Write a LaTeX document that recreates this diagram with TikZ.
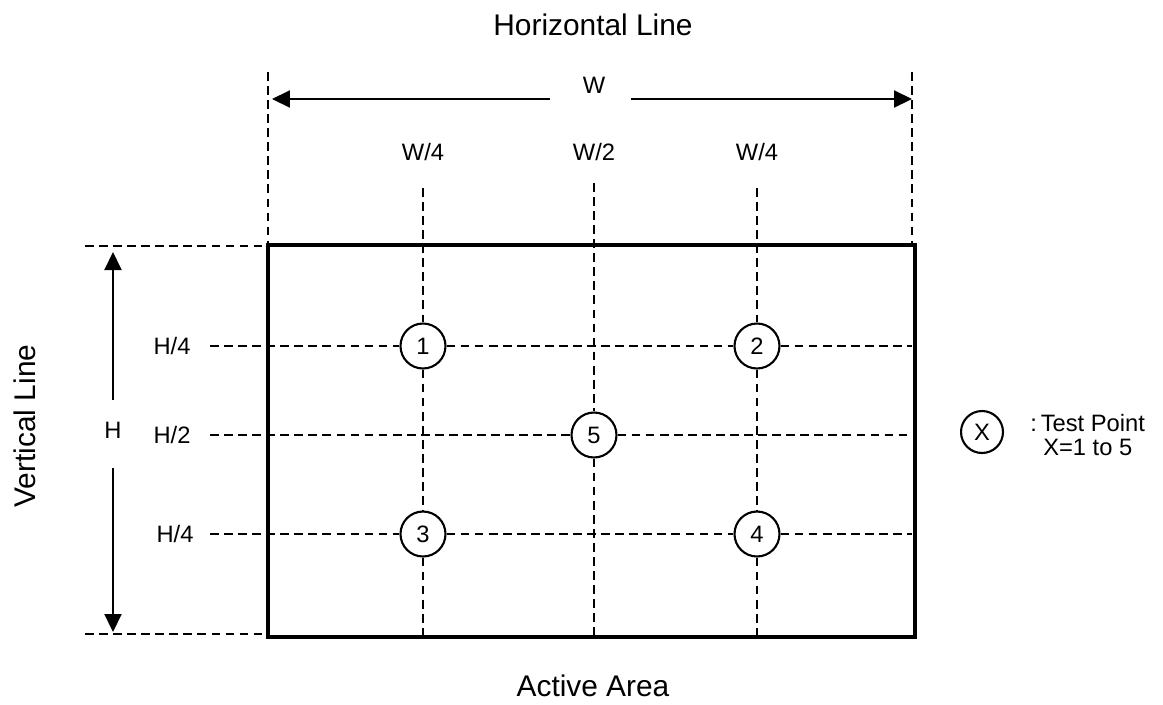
\documentclass[tikz,border=0pt]{standalone}
\usepackage{fontspec}
\setmainfont{Liberation Sans}
\usetikzlibrary{arrows.meta}
\tikzset{every picture/.style={/utils/exec={\fontsize{13.5}{16}\selectfont}}}

\begin{document}
\begin{tikzpicture}[x=0.02cm,y=-0.02cm]
  \tikzstyle{testpoint} = [circle, draw=black, line width=1.2pt, minimum size=0.9cm, inner sep=0pt]
  \tikzstyle{grid} = [dash pattern=on 5pt off 3pt, line width=1.2pt]
  \tikzstyle{dimension} = [-{Triangle[length=0.36cm,width=0.34cm]}, line width=1.2pt]
  \tikzstyle{title} = [font=\fontsize{17}{20}\selectfont]

  \useasboundingbox (0,0) rectangle (1163,704);

  % titles
  \node (htitle) [title] at (593,25) {Horizontal Line};
  \node (atitle) [title] at (593,686) {Active Area};
  \node (vtitle) [title, rotate=90] at (25,426) {Vertical Line};

  % test points
  \node (tp1) [testpoint] at (423,346) {1};
  \node (tp2) [testpoint] at (757,346) {2};
  \node (tp3) [testpoint] at (423,534) {3};
  \node (tp4) [testpoint] at (757,534) {4};
  \node (tp5) [testpoint] at (594,435) {5};

  % grid ends
  \coordinate (r1l) at (210,346); \coordinate (r1r) at (912,346);
  \coordinate (r2l) at (210,435); \coordinate (r2r) at (912,435);
  \coordinate (r3l) at (210,534); \coordinate (r3r) at (912,534);
  \coordinate (c1t) at (423,188); \coordinate (c1b) at (423,637);
  \coordinate (c2t) at (594,183); \coordinate (c2b) at (594,637);
  \coordinate (c3t) at (757,188); \coordinate (c3b) at (757,637);

  \draw [grid] (r1l) -- (tp1) -- (tp2) -- (r1r);
  \draw [grid] (r2l) -- (tp5) -- (r2r);
  \draw [grid] (r3l) -- (tp3) -- (tp4) -- (r3r);
  \draw [grid] (c1t) -- (tp1) -- (tp3) -- (c1b);
  \draw [grid] (c2t) -- (tp5) -- (c2b);
  \draw [grid] (c3t) -- (tp2) -- (tp4) -- (c3b);

  % extension lines
  \coordinate (ext1) at (268,72);  \coordinate (ext2) at (912,72);
  \coordinate (ext3) at (85,246);  \coordinate (ext4) at (85,634);
  \coordinate (nw) at (268,245); \coordinate (ne) at (912,245);
  \coordinate (sw) at (268,637);
  \draw [grid] (ext1) -- (nw);
  \draw [grid] (ext2) -- (ne);
  \draw [grid] (ext3) -- (nw |- ext3);
  \draw [grid] (ext4) -- (sw |- ext4);

  % active area
  \draw [line width=2.8pt] (268,245) rectangle (915,637);

  % W dimension
  \node (wlab) at (594,85) {W};
  \coordinate (wl) at (550,99); \coordinate (wr) at (631,99);
  \coordinate (wltip) at (272,99); \coordinate (wrtip) at (912,99);
  \draw [dimension] (wl) -- (wltip);
  \draw [dimension] (wr) -- (wrtip);

  % H dimension
  \node (hlab) at (113,430) {H};
  \coordinate (hu) at (113,400); \coordinate (hd) at (113,468);
  \coordinate (hutip) at (113,252); \coordinate (hdtip) at (113,632);
  \draw [dimension] (hu) -- (hutip);
  \draw [dimension] (hd) -- (hdtip);

  % fractions
  \node (wq1) at (423,152) {W/4};
  \node (wh) at (594,152) {W/2};
  \node (wq2) at (757,152) {W/4};
  \node (hq1) at (172,346) {H/4};
  \node (hh) at (172,435) {H/2};
  \node (hq2) at (175,534) {H/4};

  % legend
  \node (tpx) [testpoint, minimum size=0.84cm] at (982,432) {X};
  \node (tplab) [anchor=west, align=left] at (1022,435) {:\,Test Point\\[-2pt]\hspace{0.55em}X=1 to 5};
\end{tikzpicture}
\end{document}
